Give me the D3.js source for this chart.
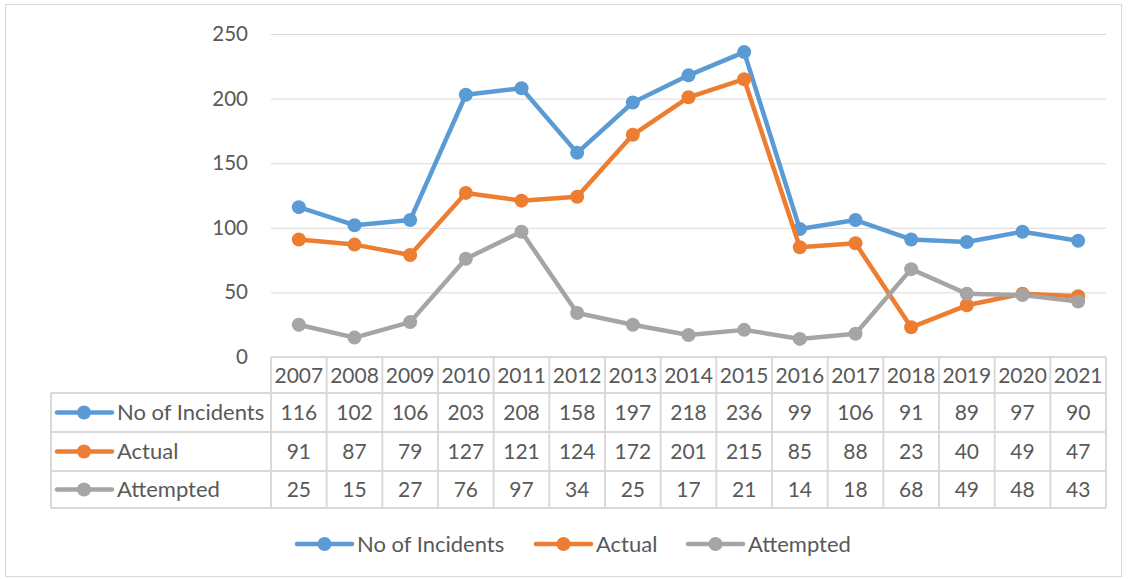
<!DOCTYPE html>
<html><head><meta charset="utf-8">
<script src="https://cdn.jsdelivr.net/npm/d3@7"></script>
<style>body{margin:0;background:#fff}svg{display:block}</style>
</head><body>
<script>
const years = ["2007","2008","2009","2010","2011","2012","2013","2014","2015","2016","2017","2018","2019","2020","2021"];
const incidents = [116,102,106,203,208,158,197,218,236,99,106,91,89,97,90];
const actual = [91,87,79,127,121,124,172,201,215,85,88,23,40,49,47];
const attempted = [25,15,27,76,97,34,25,17,21,14,18,68,49,48,43];
const seriesNames = ["No of Incidents","Actual","Attempted"];
const seriesColors = ["#5b9bd5","#ed7d31","#a5a5a5"];
const yTicks = [0,50,100,150,200,250];

const W=1128,H=579;
const font="Lato, 'Open Sans', sans-serif";
const txt="#595959", grid="#d9d9d9";
const svg=d3.select("body").append("svg").attr("width",W).attr("height",H);
svg.append("rect").attr("x",5.5).attr("y",4.5).attr("width",1116).attr("height",572).attr("fill","#fff").attr("stroke","#d9d9d9");

const pLeft=271,pRight=1106,pTop=34,pBottom=357;
const x=d3.scaleBand().domain(years).range([pLeft,pRight]);
const y=d3.scaleLinear().domain([0,250]).range([pBottom,pTop]);

svg.append("g").selectAll("line").data(yTicks.filter(d=>d>0)).join("line")
 .attr("x1",pLeft).attr("x2",pRight).attr("y1",d=>y(d)+0.5).attr("y2",d=>y(d)+0.5)
 .attr("stroke",grid).attr("stroke-width",1);
const yAxis=d3.axisLeft(y).tickValues(yTicks).tickSize(0).tickPadding(0);
const ga=svg.append("g").attr("transform",`translate(248,0)`).call(yAxis);
ga.select(".domain").remove();
ga.selectAll("text").attr("font-family",font).attr("font-size",20.5).attr("fill",txt);

const rowsY=[357,393,432,471,508];
const tleft=51;
const tg=svg.append("g").attr("stroke",grid).attr("stroke-width",2);
tg.append("line").attr("x1",pLeft).attr("x2",pRight).attr("y1",rowsY[0]).attr("y2",rowsY[0]);
for(let i=1;i<rowsY.length;i++) tg.append("line").attr("x1",tleft).attr("x2",pRight).attr("y1",rowsY[i]).attr("y2",rowsY[i]);
years.forEach((yr)=>{tg.append("line").attr("x1",x(yr)).attr("x2",x(yr)).attr("y1",rowsY[0]).attr("y2",rowsY[4]);});
tg.append("line").attr("x1",pRight).attr("x2",pRight).attr("y1",rowsY[0]).attr("y2",rowsY[4]);
tg.append("line").attr("x1",tleft).attr("x2",tleft).attr("y1",rowsY[1]).attr("y2",rowsY[4]);

svg.append("g").selectAll("text").data(years).join("text")
 .attr("x",d=>x(d)+x.bandwidth()/2).attr("y",(rowsY[0]+rowsY[1])/2).attr("dy","0.36em")
 .attr("text-anchor","middle").attr("font-family",font).attr("font-size",21).attr("fill",txt).text(d=>d);

const all=[incidents,actual,attempted];
all.forEach((vals,si)=>{
  const cy=(rowsY[si+1]+rowsY[si+2])/2;
  svg.append("g").selectAll("text").data(vals).join("text")
   .attr("x",(d,i)=>x(years[i])+x.bandwidth()/2).attr("y",cy).attr("dy","0.36em")
   .attr("text-anchor","middle").attr("font-family",font).attr("font-size",21).attr("fill",txt).text(d=>d);
  const k=svg.append("g");
  k.append("line").attr("x1",57).attr("x2",112).attr("y1",cy).attr("y2",cy).attr("stroke",seriesColors[si]).attr("stroke-width",4.5).attr("stroke-linecap","round");
  k.append("circle").attr("cx",84).attr("cy",cy).attr("r",7).attr("fill",seriesColors[si]);
  k.append("text").attr("x",117).attr("y",cy).attr("dy","0.36em").attr("font-family",font).attr("font-size",22).attr("fill",txt).text(seriesNames[si]);
});

const line=d3.line().x((d,i)=>x(years[i])+x.bandwidth()/2).y(d=>y(d));
all.forEach((vals,si)=>{
  const g=svg.append("g");
  g.append("path").datum(vals).attr("d",line).attr("fill","none").attr("stroke",seriesColors[si]).attr("stroke-width",4.5).attr("stroke-linejoin","round").attr("stroke-linecap","round");
  g.selectAll("circle").data(vals).join("circle").attr("cx",(d,i)=>x(years[i])+x.bandwidth()/2).attr("cy",d=>y(d)).attr("r",7).attr("fill",seriesColors[si]);
});

const legX=[297,536,688];
seriesNames.forEach((n,si)=>{
  const cy=544;
  const g=svg.append("g");
  g.append("line").attr("x1",legX[si]).attr("x2",legX[si]+55).attr("y1",cy).attr("y2",cy).attr("stroke",seriesColors[si]).attr("stroke-width",4.5).attr("stroke-linecap","round");
  g.append("circle").attr("cx",legX[si]+27.5).attr("cy",cy).attr("r",7).attr("fill",seriesColors[si]);
  g.append("text").attr("x",legX[si]+60).attr("y",cy).attr("dy","0.36em").attr("font-family",font).attr("font-size",22).attr("fill",txt).text(n);
});
</script>
</body></html>
